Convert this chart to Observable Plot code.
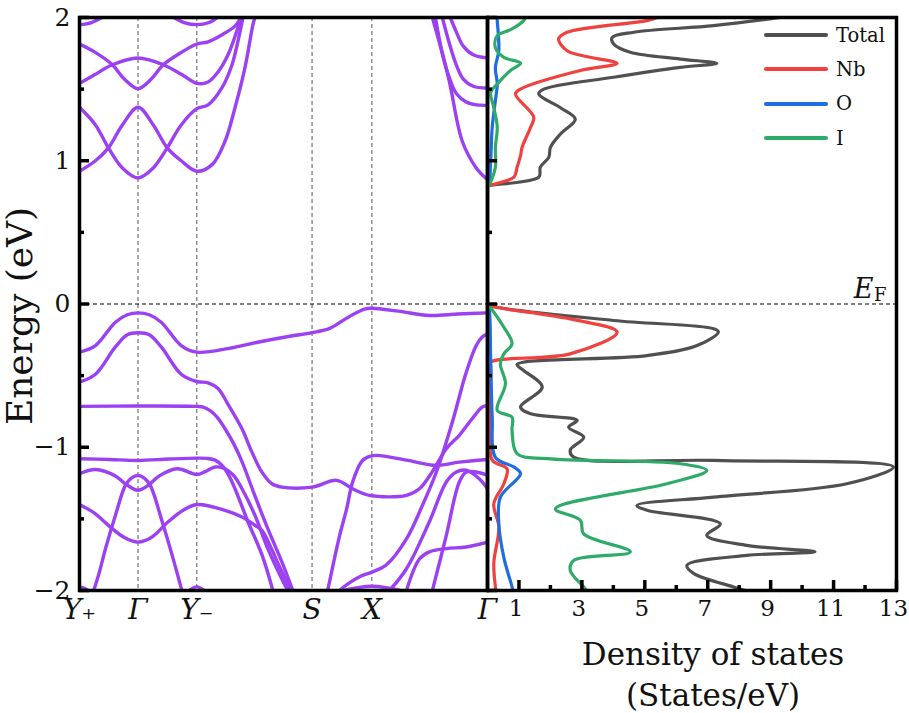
<!DOCTYPE html>
<html><head><meta charset="utf-8">
<script src="https://cdn.jsdelivr.net/npm/d3@7"></script>
<script src="https://cdn.jsdelivr.net/npm/@observablehq/plot@0.6"></script>
<style>
body{margin:0;background:#fff;}
#wrap{position:relative;width:909px;height:713px;font-family:"DejaVu Serif",serif;}
#wrap svg{position:absolute;top:0;}
#legend{position:absolute;left:764px;top:18px;font-family:"DejaVu Serif",serif;font-size:19.5px;color:#111;}
#legend .row{height:34.3px;display:flex;align-items:center;}
#legend .sw{width:64px;height:0;border-top:4px solid;border-radius:2px;margin-right:8px;}
</style></head>
<body><div id="wrap"><div id="legend"></div></div>
<script>
// ---- k-path (path length, arbitrary units) ----
const kTicks = [0, 58.7, 117.7, 233.3, 293.3, 409.3];
const kLabels = ["Y\u208A", "\u0393", "Y\u208B", "S", "X", "\u0393"];
const energyTicks = [-2, -1, 0, 1, 2];
const energyMinor = [-1.5, -0.5, 0.5, 1.5];
const dosTicks = [1, 3, 5, 7, 9, 11, 13];
const dosMinor = [2, 4, 6, 8, 10, 12];

// ---- band energies: [k, E(eV)] ----
const vb1 = [[0,-0.336],[16,-0.29],[36,-0.127],[48,-0.075],[58.7,-0.062],[70,-0.075],[82,-0.127],[102,-0.29],[117.7,-0.336],[150,-0.31],[180,-0.265],[211,-0.225],[233.3,-0.2],[251,-0.17],[270,-0.09],[286,-0.035],[293.3,-0.03],[320,-0.05],[351,-0.08],[380,-0.07],[409.3,-0.062]];
const vb2 = [[0,-0.545],[16,-0.49],[36,-0.3],[48,-0.215],[58.7,-0.201],[70,-0.215],[82,-0.3],[102,-0.49],[117.7,-0.541],[129,-0.55],[139,-0.59],[149,-0.70],[163,-0.871],[173,-1.034],[183,-1.174],[193,-1.255],[203,-1.278],[233.3,-1.278],[258,-1.231],[274,-1.29],[291,-1.336],[328,-1.336],[341,-1.29],[354,-1.17],[368,-1.01],[381,-0.917],[394,-0.80],[404,-0.72],[409.3,-0.708]];
const vb3 = [[0,-0.715],[58.7,-0.712],[117.7,-0.715],[124,-0.72],[131,-0.745],[138,-0.79],[146,-0.871],[155,-0.98],[163,-1.1],[176,-1.34],[189,-1.57],[203,-1.80],[214,-2.0]];
const vb4 = [[0,-1.08],[30,-1.085],[58.7,-1.092],[90,-1.082],[117.7,-1.076],[128,-1.078],[136,-1.09],[143,-1.127],[150,-1.2],[156,-1.29],[169,-1.52],[183,-1.75],[194,-2.0]];
const vb5 = [[0,-1.185],[16,-1.155],[36,-1.2],[47,-1.26],[58.7,-1.3],[70,-1.26],[80,-1.2],[98,-1.15],[117.7,-1.19],[126,-1.17],[136,-1.138],[146,-1.15],[155,-1.2],[163,-1.29],[176,-1.475],[189,-1.71],[203,-1.92],[209,-2.0]];
const vb6 = [[14.3,-2.0],[20,-1.87],[26,-1.71],[36,-1.476],[46,-1.266],[52,-1.215],[58.7,-1.197],[65,-1.215],[71,-1.266],[83,-1.52],[93,-1.755],[102.7,-2.0]];
const vb7 = [[0,-1.4],[15,-1.46],[29,-1.545],[45,-1.63],[58.7,-1.662],[72,-1.63],[89,-1.52],[104,-1.44],[117.7,-1.4],[146,-1.44],[163,-1.487],[176,-1.545],[183,-1.58],[192,-1.70],[201,-1.84],[212,-2.0]];
const vb8 = [[0,-1.975],[5,-1.985],[10,-2.01]];
const vb9 = [[108,-2.01],[117.7,-1.975],[127,-2.01]];
const vb10 = [[259,-2.01],[293.3,-1.97],[328,-2.01]];
const vbA = [[249,-2.0],[261,-1.615],[268,-1.43],[274,-1.243],[283,-1.10],[289,-1.069],[298,-1.057],[328,-1.09],[358,-1.127],[381,-1.104],[409.3,-1.085]];
const vbC = [[259,-2.01],[270,-1.95],[282,-1.90],[294,-1.87],[308,-1.82],[328,-1.64],[344,-1.406],[358,-1.173],[374,-0.825],[388,-0.476],[398,-0.29],[404,-0.23],[409.3,-0.208]];
const vbD = [[311,-2.0],[328,-1.848],[351,-1.52],[368,-1.243],[378,-1.173],[388,-1.16],[401,-1.22],[409.3,-1.29]];
const vbE = [[328,-2.0],[341,-1.78],[351,-1.73],[368,-1.708],[388,-1.696],[409.3,-1.662]];
const vbF = [[354,-2.0],[368,-1.615],[381,-1.243],[388,-1.173],[398,-1.173],[409.3,-1.196]];
const cb1 = [[0,0.927],[16,1.0],[29,1.09],[43,1.25],[58.7,1.373],[74,1.25],[88,1.09],[102,1.0],[117.7,0.927],[133,0.973],[146,1.136],[156,1.37],[166,1.65],[174,1.95],[176,2.0]];
const cb2 = [[0,1.373],[16,1.25],[29,1.09],[43,0.95],[58.7,0.88],[74,0.95],[88,1.09],[102,1.25],[117.7,1.364],[129,1.39],[143,1.51],[153,1.67],[161,1.90],[164,2.0]];
const cb3 = [[0,1.54],[15,1.60],[33,1.67],[58.7,1.717],[84,1.67],[103,1.60],[117.7,1.54],[129,1.55],[139,1.62],[149,1.74],[159,1.93],[162,2.0]];
const cb4 = [[0,1.815],[15,1.76],[33,1.67],[45,1.57],[58.7,1.503],[72,1.57],[84,1.67],[103,1.76],[117.7,1.815],[129,1.83],[143,1.88],[156,1.94],[162,2.0]];
const cb5 = [[0,1.95],[12,1.965],[25,2.01]];
const cb6 = [[92,2.01],[105,1.965],[117.7,1.95],[130,1.965],[140,2.01]];
const cbr1 = [[354,2.0],[362,1.8],[371,1.555],[384,1.136],[398,0.95],[409.3,0.868]];
const cbr2 = [[357,2.0],[364,1.75],[371,1.58],[378,1.47],[388,1.41],[398,1.39],[409.3,1.387]];
const cbr3 = [[364,2.0],[371,1.82],[378,1.67],[385,1.57],[395,1.52],[409.3,1.508]];
const cbr4 = [[372,2.0],[378,1.90],[385,1.80],[395,1.74],[409.3,1.718]];
const bands = [vb1,vb2,vb3,vb4,vb5,vb6,vb7,vb8,vb9,vb10,vbA,vbC,vbD,vbE,vbF,cb1,cb2,cb3,cb4,cb5,cb6,cbr1,cbr2,cbr3,cbr4];

// ---- density of states: [E(eV), states/eV] ----
const dosTotal = [[-2.0,8.2],[-1.975,7.82],[-1.88,6.55],[-1.824,6.34],[-1.755,8.24],[-1.73,10.41],[-1.685,8.24],[-1.615,6.97],[-1.535,7.4],[-1.44,5.07],[-1.406,4.75],[-1.348,7.19],[-1.255,11.42],[-1.138,12.9],[-1.092,7.19],[-1.069,2.74],[-1.02,2.63],[-0.93,3.06],[-0.86,2.58],[-0.813,2.85],[-0.766,1.37],[-0.72,1.05],[-0.58,1.74],[-0.464,1.15],[-0.422,0.94],[-0.36,5.07],[-0.29,6.66],[-0.196,7.34],[-0.173,7.19],[-0.115,4.01],[-0.01,0.04],[0.0,0],[0.82,0],[0.826,0.04],[0.885,1.63],[0.955,1.68],[1.025,1.95],[1.094,2.0],[1.187,2.32],[1.29,2.79],[1.37,2.32],[1.466,1.63],[1.50,1.79],[1.583,4.01],[1.652,6.13],[1.68,7.29],[1.71,6.13],[1.757,4.54],[1.815,4.01],[1.86,3.96],[1.897,4.65],[1.943,7.19],[1.99,8.98],[2.0,9.3]];
const dosNb = [[-2.0,0.26],[-1.975,0.25],[-1.81,0.2],[-1.557,0.36],[-1.395,0.2],[-1.255,0.52],[-1.15,0.62],[-1.09,0.15],[-0.836,0.1],[-0.44,0.1],[-0.406,0.1],[-0.348,2.63],[-0.196,4.12],[-0.104,2.63],[-0.01,0.04],[0,0],[0.82,0],[0.826,0.04],[0.885,0.84],[0.955,0.94],[1.035,1.05],[1.094,1.1],[1.234,1.37],[1.304,1.47],[1.466,0.89],[1.50,1.05],[1.63,2.95],[1.68,4.12],[1.722,3.27],[1.768,2.53],[1.85,2.26],[1.897,2.53],[1.978,5.07],[2.0,5.4]];
const dosO = [[-2.0,0.8],[-1.975,0.78],[-1.77,0.52],[-1.535,0.36],[-1.348,0.41],[-1.185,1.05],[-1.138,0.84],[-1.07,0.25],[-0.79,0.15],[-0.37,0.1],[-0.01,0.04],[0,0],[0.82,0],[0.826,0.04],[1.0,0.1],[1.234,0.15],[1.42,0.25],[1.535,0.31],[1.65,0.25],[1.77,0.36],[1.98,0.31],[2.0,0.31]];
const dosI = [[-2.0,3.15],[-1.975,3.06],[-1.86,2.63],[-1.79,2.74],[-1.73,4.54],[-1.605,3.06],[-1.51,2.95],[-1.43,2.16],[-1.255,5.7],[-1.162,6.97],[-1.115,6.13],[-1.08,1.89],[-1.045,0.94],[-0.883,0.78],[-0.79,0.78],[-0.743,0.31],[-0.557,0.57],[-0.418,0.41],[-0.348,0.52],[-0.278,0.78],[-0.162,0.52],[-0.01,0.04],[0,0],[0.82,0],[0.826,0.04],[0.955,0.25],[1.094,0.25],[1.234,0.31],[1.373,0.2],[1.478,0.1],[1.535,0.31],[1.63,0.73],[1.68,1.05],[1.722,0.52],[1.79,0.25],[1.873,0.31],[1.92,0.78],[1.978,1.15],[2.0,1.2]];
const dosNames = ["Total", "Nb", "O", "I"];
const dosColors = ["#505050", "#f0413f", "#1f6de0", "#2fab69"];
const dosSeries = [dosTotal, dosNb, dosO, dosI];

const bandColor = "#9b40f2";
const FONT = "DejaVu Serif";
const minus = d => d < 0 ? "\u2212" + Math.abs(d) : String(d);

const bandRows = bands.flatMap((b, i) => b.map(([k, e]) => ({k, e, band: i})));
const dosRows = dosSeries.flatMap((s, i) => s.map(([e, v]) => ({e, v, name: dosNames[i]})));

const H = 713, MT = 17, MB = 123;
const bandW = 489, bandML = 79, bandMR = 2;
const bandFrameW = bandW - bandML - bandMR;
const frameH = H - MT - MB;

const bandPlot = Plot.plot({
  width: bandW, height: H,
  marginLeft: bandML, marginRight: bandMR, marginTop: MT, marginBottom: MB,
  x: {domain: [kTicks[0], kTicks[kTicks.length - 1]], axis: null},
  y: {domain: [-2, 2], axis: null},
  style: {background: "transparent", fontFamily: FONT, overflow: "visible", color: "#111"},
  marks: [
    Plot.ruleX(kTicks.slice(1, -1), {stroke: "#555", strokeWidth: 1, strokeDasharray: "4,3"}),
    Plot.ruleY([0], {stroke: "#000", strokeWidth: 1, strokeDasharray: "4,3"}),
    Plot.line(bandRows, {x: "k", y: "e", z: "band", stroke: bandColor, strokeWidth: 3.4, curve: "catmull-rom", clip: true}),
    Plot.tickY(energyTicks, {y: d => d, stroke: "#000", strokeWidth: 3.5, insetRight: bandFrameW - 10}),
    Plot.tickY(energyMinor, {y: d => d, stroke: "#000", strokeWidth: 3.5, insetRight: bandFrameW - 5}),
    Plot.frame({stroke: "#000", strokeWidth: 3.5}),
    Plot.axisY({ticks: energyTicks, tickSize: 0, tickPadding: 9, tickFormat: minus, fontSize: 25, label: null}),
    Plot.axisX({ticks: kTicks, tickSize: 0, tickPadding: 9, tickFormat: d => kLabels[kTicks.indexOf(d)], fontSize: 28, fontStyle: "italic", label: null}),
    Plot.text(["Energy (eV)"], {frameAnchor: "left", textAnchor: "middle", rotate: -90, dx: -59, dy: 12, fontSize: 36, text: d => d})
  ]
});

const dosW = 429, dosML = 7, dosMR = 13;
const dosFrameW = dosW - dosML - dosMR;
const dosPlot = Plot.plot({
  width: dosW, height: H,
  marginLeft: dosML, marginRight: dosMR, marginTop: MT, marginBottom: MB,
  x: {domain: [0, 13], axis: null},
  y: {domain: [-2, 2], axis: null},
  color: {domain: dosNames, range: dosColors},
  style: {background: "transparent", fontFamily: FONT, overflow: "visible", color: "#111"},
  marks: [
    Plot.ruleY([0], {stroke: "#000", strokeWidth: 1, strokeDasharray: "4,3"}),
    Plot.line(dosRows, {x: "v", y: "e", z: "name", stroke: "name", strokeWidth: 3.2, curve: "catmull-rom", clip: true}),
    Plot.tickY(energyTicks, {y: d => d, stroke: "#000", strokeWidth: 3.5, insetRight: dosFrameW - 10}),
    Plot.tickY(energyMinor, {y: d => d, stroke: "#000", strokeWidth: 3.5, insetRight: dosFrameW - 5}),
    Plot.tickX(dosTicks, {x: d => d, stroke: "#000", strokeWidth: 3.5, insetTop: frameH - 10}),
    Plot.tickX(dosMinor, {x: d => d, stroke: "#000", strokeWidth: 3.5, insetTop: frameH - 5}),
    Plot.frame({stroke: "#000", strokeWidth: 3.5}),
    Plot.axisX({ticks: dosTicks, tickSize: 0, tickPadding: 9, fontSize: 23, dx: -3, label: null, tickFormat: d => String(d)}),
    Plot.text(["E"], {frameAnchor: "right", y: () => 0, text: d => d, textAnchor: "end", lineAnchor: "bottom", dx: -23, dy: -6, fontSize: 27, fontStyle: "italic"}),
    Plot.text(["F"], {frameAnchor: "right", y: () => 0, text: d => d, textAnchor: "end", lineAnchor: "bottom", dx: -10, dy: -3, fontSize: 18}),
    Plot.text(["Density of states\n(States/eV)"], {frameAnchor: "bottom", text: d => d, lineAnchor: "middle", dx: 21, dy: 82, fontSize: 31, lineHeight: 1.3})
  ]
});

const wrap = document.getElementById("wrap");
bandPlot.style.left = "0px";
dosPlot.style.left = "480px";
wrap.appendChild(bandPlot);
wrap.appendChild(dosPlot);
const legend = document.getElementById("legend");
wrap.appendChild(legend);
dosNames.forEach((n, i) => {
  const row = document.createElement("div");
  row.className = "row";
  const sw = document.createElement("span");
  sw.className = "sw";
  sw.style.borderColor = dosColors[i];
  const lab = document.createElement("span");
  lab.textContent = n;
  row.appendChild(sw); row.appendChild(lab);
  legend.appendChild(row);
});
</script></body></html>
